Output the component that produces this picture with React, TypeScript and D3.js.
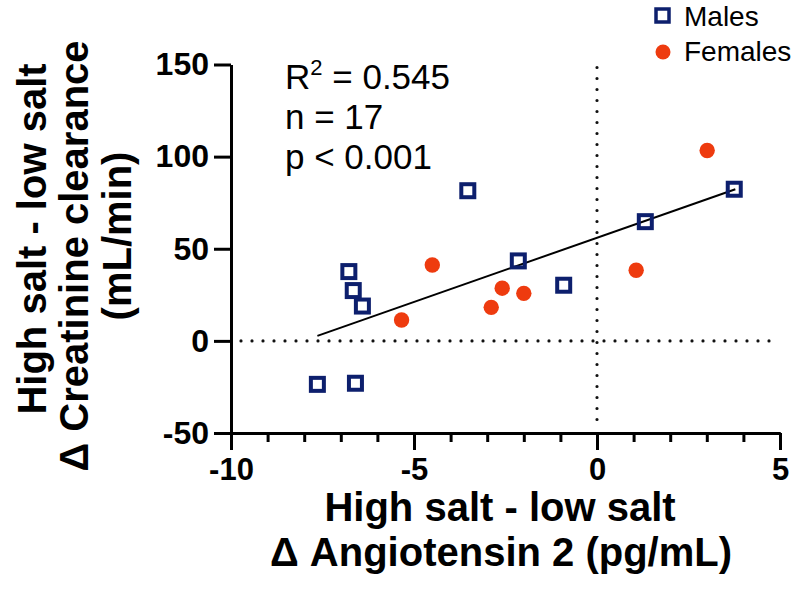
import { useEffect, useRef } from 'react';
import * as d3 from 'd3';

// Males (open squares)
const malesX = [-7.64, -6.6, -6.78, -6.66, -6.41, -3.53, -2.15, -0.91, 1.32, 3.75];
const malesY = [-23.6, -23.0, 37.6, 27.3, 18.9, 81.5, 43.4, 30.2, 64.7, 82.3];
// Females (filled circles)
const femalesX = [-5.34, -4.5, -2.89, -2.59, -2.0, 1.07, 3.01];
const femalesY = [11.3, 41.2, 18.2, 28.6, 25.8, 38.3, 103.3];
// fitted line end points
const fitX = [-7.64, 3.78];
const fitY = [2.7, 82.3];

const xTicks = [-10, -5, 0, 5];
const xMinorTicks = d3.range(-10, 6, 1);
const yTicks = [-50, 0, 50, 100, 150];
const statLines = ['= 0.545', 'n = 17', 'p < 0.001'];

const FONT = '"Liberation Sans", Arial, Helvetica, sans-serif';
const NAVY = '#0d1f6d';
const RED = '#ee3b0f';
const fmt = (d: d3.NumberValue) => String(d); // guión normal, no "−"

export default function App() {
  const ref = useRef<SVGSVGElement>(null);

  useEffect(() => {
    const width = 801;
    const height = 603;
    const svg = d3.select(ref.current);
    svg.selectAll('*').remove();

    const x = d3.scaleLinear().domain([-10, 5]).range([231, 780]);
    const y = d3.scaleLinear().domain([-50, 150]).range([433, 64.5]);

    // dotted reference lines
    svg.append('line')
      .attr('x1', x(-10) + 10).attr('x2', x(5))
      .attr('y1', y(0)).attr('y2', y(0))
      .attr('stroke', '#111').attr('stroke-width', 3.2)
      .attr('stroke-linecap', 'round').attr('stroke-dasharray', '0 11');
    svg.append('line')
      .attr('x1', x(0)).attr('x2', x(0))
      .attr('y1', y(150) + 3).attr('y2', y(-50) - 8)
      .attr('stroke', '#111').attr('stroke-width', 3.2)
      .attr('stroke-linecap', 'round').attr('stroke-dasharray', '0 11');

    // Eje X (minor ticks)
    svg.append('g')
      .attr('transform', `translate(0,${y(-50)})`)
      .call(d3.axisBottom(x).tickValues(xMinorTicks).tickSize(9).tickSizeOuter(0).tickFormat(() => ''))
      .call(g => g.selectAll('path,line').attr('stroke', '#000').attr('stroke-width', 3));
    // Eje X (major)
    svg.append('g')
      .attr('transform', `translate(0,${y(-50)})`)
      .call(d3.axisBottom(x).tickValues(xTicks).tickSize(17).tickSizeOuter(0).tickPadding(8).tickFormat(fmt))
      .call(g => g.selectAll('path,line').attr('stroke', '#000').attr('stroke-width', 3))
      .selectAll('text')
      .attr('font-family', FONT)
      .attr('font-size', 31)
      .attr('font-weight', 700)
      .attr('fill', '#000');

    // Eje Y
    svg.append('g')
      .attr('transform', `translate(${x(-10)},0)`)
      .call(d3.axisLeft(y).tickValues(yTicks).tickSize(17).tickSizeOuter(0).tickPadding(5).tickFormat(fmt))
      .call(g => g.selectAll('path,line').attr('stroke', '#000').attr('stroke-width', 3))
      .selectAll('text')
      .attr('font-family', FONT)
      .attr('font-size', 32)
      .attr('font-weight', 700)
      .attr('fill', '#000');

    // recta de regresión
    svg.append('line')
      .attr('x1', x(fitX[0])).attr('y1', y(fitY[0]))
      .attr('x2', x(fitX[1])).attr('y2', y(fitY[1]))
      .attr('stroke', '#000').attr('stroke-width', 2);

    // puntos
    svg.append('g')
      .selectAll('rect')
      .data(malesX.map((v, i) => [v, malesY[i]]))
      .join('rect')
      .attr('x', d => x(d[0]) - 6.5)
      .attr('y', d => y(d[1]) - 6.5)
      .attr('width', 13).attr('height', 13)
      .attr('fill', 'none').attr('stroke', NAVY).attr('stroke-width', 4);
    svg.append('g')
      .selectAll('circle')
      .data(femalesX.map((v, i) => [v, femalesY[i]]))
      .join('circle')
      .attr('cx', d => x(d[0]))
      .attr('cy', d => y(d[1]))
      .attr('r', 7.7)
      .attr('fill', RED);

    // estadísticos
    const st = svg.append('g').attr('font-family', FONT).attr('font-size', 35).attr('fill', '#000');
    const t0 = st.append('text').attr('x', 285).attr('y', 89);
    t0.append('tspan').text('R');
    t0.append('tspan').attr('font-size', 22).attr('dy', -14).text('2');
    t0.append('tspan').attr('dy', 14).text(' ' + statLines[0]);
    statLines.slice(1).forEach((s, i) => {
      st.append('text').attr('x', 285).attr('y', 129 + i * 40).text(s);
    });

    // leyenda
    svg.append('rect')
      .attr('x', 656).attr('y', 9).attr('width', 13).attr('height', 13)
      .attr('fill', 'none').attr('stroke', NAVY).attr('stroke-width', 3.5);
    svg.append('circle').attr('cx', 663).attr('cy', 52).attr('r', 7.5).attr('fill', RED);
    const lg = svg.append('g').attr('font-family', FONT).attr('font-size', 28).attr('fill', '#000');
    lg.append('text').attr('x', 684).attr('y', 26).text('Males');
    lg.append('text').attr('x', 684).attr('y', 61).text('Females');

    // títulos de ejes
    const tt = svg.append('g').attr('font-family', FONT).attr('font-size', 40)
      .attr('font-weight', 700).attr('fill', '#000').attr('text-anchor', 'middle')
      .style('white-space', 'pre');
    tt.append('text').attr('x', 500).attr('y', 521).text('High salt - low salt');
    tt.append('text').attr('x', 501).attr('y', 566).text('\u0394 Angiotensin 2 (pg/mL)');
    const yTitles: [string, number, number][] = [
      ['High salt  - low salt', 46, 239],
      ['\u0394 Creatinine clearance', 88, 256],
      ['(mL/min)', 131, 236],
    ];
    yTitles.forEach(([s, bx, cy]) => {
      tt.append('text')
        .attr('transform', `translate(${bx},${cy}) rotate(-90)`)
        .text(s);
    });

    svg.attr('width', width).attr('height', height);
  }, []);

  return (
    <svg
      ref={ref}
      width={801}
      height={603}
      style={{ position: 'absolute', left: 0, top: 0, background: '#fff', display: 'block' }}
    />
  );
}
